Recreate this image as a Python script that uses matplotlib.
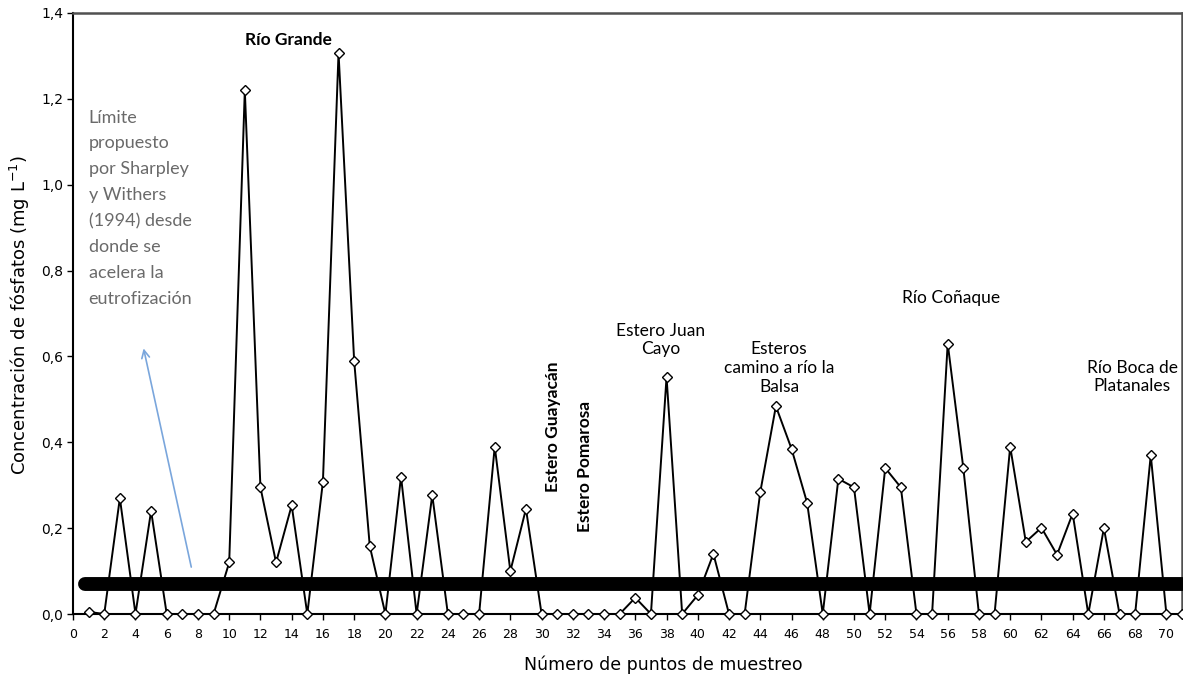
import matplotlib
matplotlib.use("Agg")
import matplotlib.pyplot as plt
from matplotlib.ticker import FuncFormatter

# ---- data ----
puntos = list(range(1, 72))
fosfatos = [0.005, 0.0, 0.27, 0.0, 0.24, 0.0, 0.0, 0.0, 0.0, 0.12,
            1.22, 0.295, 0.12, 0.253, 0.0, 0.308, 1.307, 0.59, 0.158, 0.0,
            0.32, 0.0, 0.277, 0.0, 0.0, 0.0, 0.39, 0.10, 0.245, 0.0,
            0.0, 0.0, 0.0, 0.0, 0.0, 0.038, 0.0, 0.552, 0.0, 0.044,
            0.14, 0.0, 0.0, 0.284, 0.484, 0.385, 0.259, 0.0, 0.315, 0.295,
            0.0, 0.34, 0.295, 0.0, 0.0, 0.63, 0.34, 0.0, 0.0, 0.39,
            0.168, 0.201, 0.138, 0.234, 0.0, 0.2, 0.0, 0.0, 0.37, 0.0, 0.0]
limite = 0.07
limite_x = [0.8, 71]
x_ticks = list(range(0, 71, 2))
y_ticks = [0.0, 0.2, 0.4, 0.6, 0.8, 1.0, 1.2, 1.4]

etiquetas = [
    ("Río Grande", 13.8, 1.338, 0, "bold"),
    ("Estero Guayacán", 30.7, 0.436, 90, "bold"),
    ("Estero Pomarosa", 32.76, 0.343, 90, "bold"),
    ("Estero Juan\nCayo", 37.6, 0.638, 0, "normal"),
    ("Esteros\ncamino a río la\nBalsa", 45.2, 0.573, 0, "normal"),
    ("Río Coñaque", 56.2, 0.737, 0, "normal"),
    ("Río Boca de\nPlatanales", 67.8, 0.552, 0, "normal"),
]
nota = ("Límite\npropuesto\npor Sharpley\ny Withers\n(1994) desde\n"
        "donde se\nacelera la\neutrofización")

W, H = 1183, 675
fig = plt.figure(figsize=(W / 100, H / 100), dpi=100)
ax = fig.add_axes([73 / W, 1 - 614 / H, (1182 - 73) / W, (614 - 13) / H])

ax.plot(puntos, fosfatos, color="black", lw=1.4, marker="D", ms=5.5,
        mfc="white", mec="black", mew=1.0, clip_on=False, zorder=3)
ax.plot(limite_x, [limite, limite], color="black", lw=10,
        solid_capstyle="round", zorder=4, clip_on=False)

ax.set_xlim(0, 71)
ax.set_ylim(0, 1.4)
ax.set_xticks(x_ticks)
ax.set_yticks(y_ticks)
ax.yaxis.set_major_formatter(FuncFormatter(lambda v, p: f"{v:.1f}".replace(".", ",")))
ax.tick_params(axis="x", direction="out", length=4, width=1, pad=6, labelsize=9)
ax.tick_params(axis="y", direction="out", length=4, width=1, pad=3, labelsize=10)
for s in ["left", "bottom"]:
    ax.spines[s].set_linewidth(1.5)
    ax.spines[s].set_color("black")
for s in ["top", "right"]:
    ax.spines[s].set_linewidth(1.8)
    ax.spines[s].set_color("#505050")

for txt, x, y, rot, w in etiquetas:
    ax.text(x, y, txt, rotation=rot, ha="center", va="center", fontsize=12.5,
            fontweight=w, family="Lato", linespacing=1.2, zorder=5)

ax.text(1.0, 1.175, nota, ha="left", va="top", fontsize=13, family="Lato",
        color="#6a6a6a", linespacing=1.76)

ax.annotate("", xy=(4.48, 0.625), xytext=(7.61, 0.103),
            arrowprops=dict(arrowstyle="->", color="#7aa6dc", lw=1.2,
                            mutation_scale=14))

fig.text(20 / W, 1 - 315 / H, "Concentración de fósfatos (mg L$^{-1}$)",
         rotation=90, ha="center", va="center", fontsize=13)
fig.text(663 / W, 1 - 670 / H, "Número de puntos de muestreo", ha="center",
         va="baseline", fontsize=12.5)

fig.savefig("out.png", dpi=100)
